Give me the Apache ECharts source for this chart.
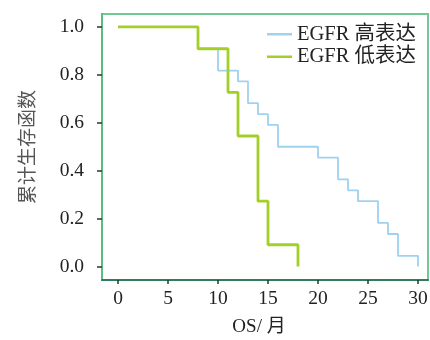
<!DOCTYPE html>
<html>
<head>
<meta charset="utf-8">
<script src="https://cdn.jsdelivr.net/npm/echarts@6/dist/echarts.min.js"></script>
<style>
html,body{margin:0;padding:0;background:#fff;}
#main{width:430px;height:340px;}
</style>
</head>
<body>
<div id="main"></div>
<script>
// 生存数据（KM 阶梯）
var highTime = [0, 8, 10, 12, 13, 14, 15, 16, 20, 22, 23, 24, 26, 27, 28, 30];
var highSurv = [1.0, 0.909, 0.818, 0.773, 0.682, 0.636, 0.591, 0.5, 0.455, 0.364, 0.318, 0.273, 0.182, 0.136, 0.045, 0.0];
var lowTime = [0, 8, 11, 12, 14, 15, 18];
var lowSurv = [1.0, 0.909, 0.727, 0.545, 0.273, 0.091, 0.0];
var xTicks = [0, 5, 10, 15, 20, 25, 30];
var yTicks = [0, 0.2, 0.4, 0.6, 0.8, 1.0];
var seriesNames = ['EGFR 高表达', 'EGFR 低表达'];

function pairs(t, s)
{
	var out = [];
	for(var i = 0; i < t.length; i++)
	{
		out.push([t[i], s[i]]);
	}
	return out;
}

var serif = '"Liberation Serif", "Noto Sans CJK SC", serif';
var myChart = echarts.init(document.getElementById('main'), null, {renderer: 'canvas'});

var option = {
	animation: false,
	backgroundColor: '#fff',
	grid: {
		left: 102, top: 14, right: 2, bottom: 60,
		show: true,
		borderColor: '#74c894',
		borderWidth: 2,
		outerBoundsMode: 'none'
	},
	legend: {
		orient: 'vertical',
		left: 262,
		top: 19,
		itemWidth: 25,
		itemHeight: 2.5,
		itemGap: 2,
		itemStyle: {borderWidth: 0},
		icon: 'rect',
		textStyle: {fontFamily: serif, fontSize: 20.5, color: '#222'},
		data: seriesNames
	},
	xAxis: {
		type: 'value',
		min: -1.6,
		max: 31,
		name: 'OS/ 月',
		nameLocation: 'middle',
		nameGap: 38,
		nameTextStyle: {fontFamily: serif, fontSize: 19, color: '#222', padding: [0, 12, 0, 0]},
		axisLine: {show: true, onZero: false, lineStyle: {color: '#2f7d5c', width: 2}},
		axisTick: {show: true, length: 4, customValues: xTicks, lineStyle: {color: '#1c3b2c', width: 1.5}},
		axisLabel: {customValues: xTicks, margin: 9, fontFamily: serif, fontSize: 19.5, color: '#222'},
		splitLine: {show: false}
	},
	yAxis: {
		type: 'value',
		min: -0.056,
		max: 1.054,
		name: '累计生存函数',
		nameLocation: 'middle',
		nameRotate: 90,
		nameGap: 66,
		nameTextStyle: {fontFamily: '"Noto Sans CJK SC", sans-serif', fontSize: 19, color: '#555'},
		axisLine: {show: true, onZero: false, lineStyle: {color: '#5dba80', width: 2}},
		axisTick: {show: true, length: 5, customValues: yTicks, lineStyle: {color: '#1c3b2c', width: 1.5}},
		axisLabel: {
			customValues: yTicks, margin: 18, fontFamily: serif, fontSize: 19.5, color: '#222',
			formatter: function(v){ return v.toFixed(1); }
		},
		splitLine: {show: false}
	},
	series: [
		{
			name: seriesNames[0],
			type: 'line',
			step: 'end',
			showSymbol: false,
			color: '#9fd2f0',
			lineStyle: {width: 1.8, color: '#9fd2f0'},
			data: pairs(highTime, highSurv)
		},
		{
			name: seriesNames[1],
			type: 'line',
			step: 'end',
			showSymbol: false,
			color: '#a3cf2a',
			lineStyle: {width: 2.8, color: '#a3cf2a'},
			data: pairs(lowTime, lowSurv)
		}
	]
};
myChart.setOption(option);
</script>
</body>
</html>
